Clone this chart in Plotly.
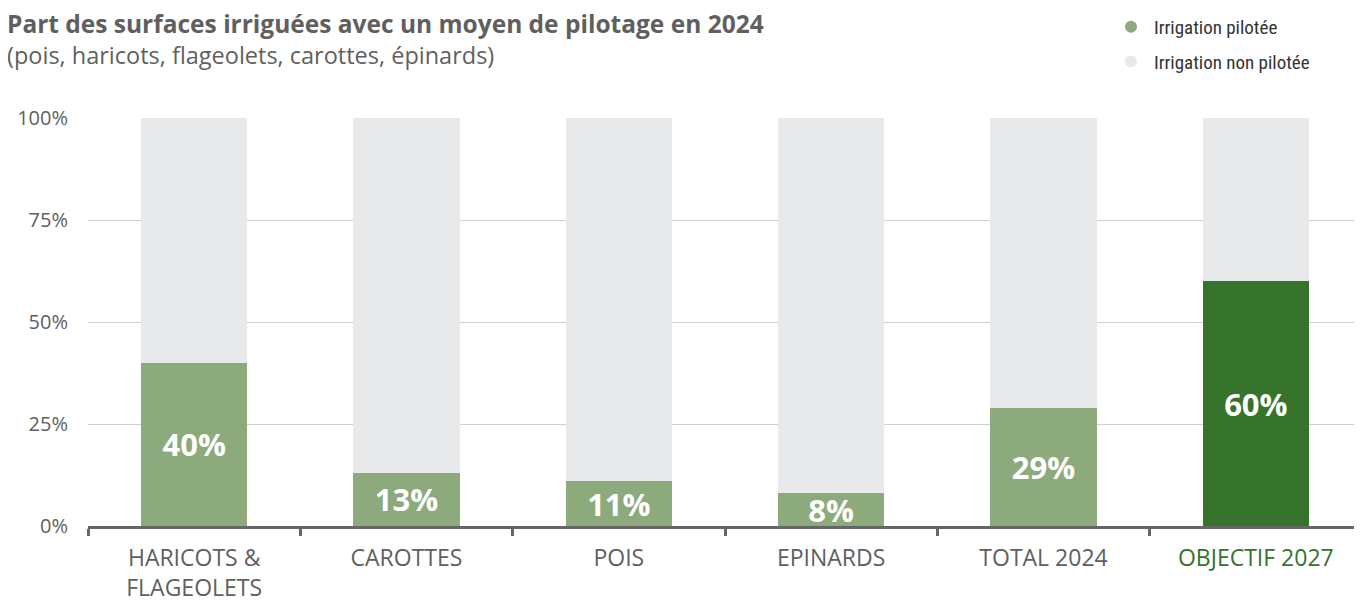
import plotly.graph_objects as go

categories = ["HARICOTS &<br>FLAGEOLETS", "CAROTTES", "POIS", "EPINARDS", "TOTAL 2024", "OBJECTIF 2027"]
cat_keys = ["haricots", "carottes", "pois", "epinards", "total", "objectif"]
pilotee = [40, 13, 11, 8, 29, 60]
non_pilotee = [100 - v for v in pilotee]
labels = [f"{v}%" for v in pilotee]
y_ticks = [0, 25, 50, 75, 100]

GREEN = "#8DAA7C"
DARK_GREEN = "#36732B"
GREY = "#E8E9EA"
TXT = "#5F5F5F"

bar_colors = [GREEN] * 5 + [DARK_GREEN]

fig = go.Figure()
fig.add_trace(go.Bar(
    x=cat_keys, y=pilotee, marker=dict(color=bar_colors, line=dict(width=0)),
    width=0.5, text=labels, textposition="inside", insidetextanchor="middle",
    textfont=dict(family="Open Sans", size=31, color="white", weight="bold"),
    constraintext="none", showlegend=False, hoverinfo="skip", cliponaxis=False,
))
fig.add_trace(go.Bar(
    x=cat_keys, y=non_pilotee, marker=dict(color=GREY, line=dict(width=0)),
    width=0.5, showlegend=False, hoverinfo="skip",
))
# legend entries with circle markers
fig.add_trace(go.Scatter(x=[None], y=[None], mode="markers", name="Irrigation pilotée",
                         legendgroup="a",
                         marker=dict(symbol="circle", size=17, color=GREEN)))
fig.add_trace(go.Scatter(x=[None], y=[None], mode="markers", name="Irrigation non pilotée",
                         legendgroup="b",
                         marker=dict(symbol="circle", size=17, color=GREY)))

ticktext = categories[:5] + [f"<span style='color:{DARK_GREEN}'>{categories[5]}</span>"]

# The page body adds an 8px offset; margins compensate so the plot area sits at
# x 88..1362, y 118..526 in the screenshot.
fig.update_layout(
    width=1362, height=601,
    barmode="stack", bargap=0.5,
    plot_bgcolor="white", paper_bgcolor="white",
    margin=dict(l=80, r=8, t=110, b=83, autoexpand=False),
    font=dict(family="Open Sans", color=TXT),
    legend=dict(x=(1108 - 88) / 1274, y=(526 - 8) / 408, xanchor="left", yanchor="top",
                font=dict(family="Liberation Sans Narrow, Roboto Condensed, Roboto", size=19, color="#333333"),
                itemsizing="constant", traceorder="grouped", tracegroupgap=7,
                itemwidth=36, bgcolor="rgba(0,0,0,0)"),
    xaxis=dict(
        categoryorder="array", categoryarray=cat_keys,
        tickmode="array", tickvals=cat_keys, ticktext=ticktext,
        tickfont=dict(family="Open Sans", size=23, color=TXT),
        showline=True, linecolor="#666666", linewidth=3,
        ticks="outside", tickson="boundaries", ticklen=7, tickwidth=3, tickcolor="#666666",
        showgrid=False, ticklabelstandoff=9, fixedrange=True, automargin=False,
    ),
    yaxis=dict(
        range=[0, 100], tickvals=y_ticks, ticktext=[f"{t}%" for t in y_ticks],
        tickfont=dict(family="Open Sans", size=20, color=TXT),
        showgrid=True, gridcolor="#CFCFCF", gridwidth=1, zeroline=False,
        showline=False, ticks="", ticklabelstandoff=19, fixedrange=True, automargin=False,
    ),
    annotations=[
        dict(text="<b>Part des surfaces irriguées avec un moyen de pilotage en 2024</b>",
             xref="paper", yref="paper", x=-83 / 1274, y=(526 - 24) / 408,
             xanchor="left", yanchor="middle", showarrow=False,
             font=dict(family="Open Sans", size=24.5, color=TXT)),
        dict(text="(pois, haricots, flageolets, carottes, épinards)",
             xref="paper", yref="paper", x=-83 / 1274, y=(526 - 55) / 408,
             xanchor="left", yanchor="middle", showarrow=False,
             font=dict(family="Open Sans", size=23.5, color=TXT)),
    ],
)

fig.write_html("out.html")
